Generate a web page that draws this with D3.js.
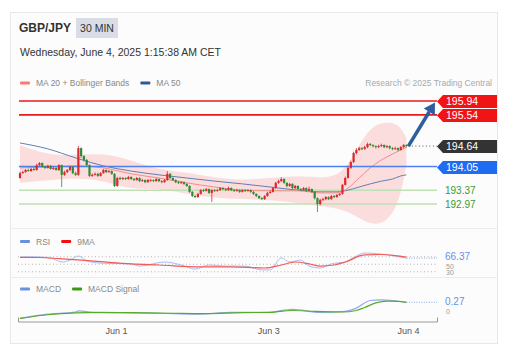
<!DOCTYPE html>
<html>
<head>
<meta charset="utf-8">
<script src="https://cdn.jsdelivr.net/npm/d3@7"></script>
<style>
  body { margin: 0; background: #fff; }
  svg { font-family: Arial, "Liberation Sans", sans-serif; display: block; }
</style>
</head>
<body>
<svg id="chart" width="516" height="354"></svg>
<script>

// ---- data (GBP/JPY, 30 min candles) ----
var opens = [193.72,193.86,193.89,193.95,193.92,193.98,193.95,194.09,194.15,194.04,
  194.01,194.07,193.98,194.01,193.95,194.09,193.81,193.89,193.95,194.04,
  193.86,193.81,194.58,194.35,194.24,194.09,193.78,193.81,193.84,193.78,
  193.86,193.95,193.89,193.92,193.84,193.49,193.72,193.69,193.72,193.69,
  193.75,193.69,193.66,193.72,193.63,193.66,193.60,193.66,193.66,193.63,
  193.69,193.63,193.60,193.66,193.84,193.72,193.66,193.60,193.58,193.60,
  193.55,193.49,193.32,193.20,193.17,193.26,193.37,193.35,193.40,193.29,
  193.37,193.35,193.37,193.43,193.40,193.37,193.43,193.37,193.35,193.37,
  193.32,193.37,193.35,193.37,193.32,193.26,193.20,193.14,193.11,193.20,
  193.29,193.32,193.43,193.58,193.63,193.69,193.58,193.49,193.55,193.43,
  193.49,193.40,193.37,193.43,193.35,193.40,193.32,193.14,192.97,193.09,
  193.11,193.17,193.11,193.20,193.17,193.23,193.26,193.52,193.72,194.01,
  194.18,194.44,194.53,194.58,194.56,194.61,194.70,194.67,194.64,194.61,
  194.64,194.67,194.61,194.64,194.58,194.56,194.58,194.53,194.61,194.67];

var closes = [193.86,193.89,193.95,193.92,193.98,193.95,194.09,194.15,194.04,194.01,
  194.07,193.98,194.01,193.95,194.09,193.81,193.89,193.95,194.04,193.86,
  193.81,194.58,194.35,194.24,194.09,193.78,193.81,193.84,193.78,193.86,
  193.95,193.89,193.92,193.84,193.49,193.72,193.69,193.72,193.69,193.75,
  193.69,193.66,193.72,193.63,193.66,193.60,193.66,193.66,193.63,193.69,
  193.63,193.60,193.66,193.84,193.72,193.66,193.60,193.58,193.60,193.55,
  193.49,193.32,193.20,193.17,193.26,193.37,193.35,193.40,193.29,193.37,
  193.35,193.37,193.43,193.40,193.37,193.43,193.37,193.35,193.37,193.32,
  193.37,193.35,193.37,193.32,193.26,193.20,193.14,193.11,193.20,193.29,
  193.32,193.43,193.58,193.63,193.69,193.58,193.49,193.55,193.43,193.49,
  193.40,193.37,193.43,193.35,193.40,193.32,193.14,192.97,193.09,193.11,
  193.17,193.11,193.20,193.17,193.23,193.26,193.52,193.72,194.01,194.18,
  194.44,194.53,194.58,194.56,194.61,194.70,194.67,194.64,194.61,194.64,
  194.67,194.61,194.64,194.58,194.56,194.58,194.53,194.61,194.67,194.64];

var highs = [193.90,193.93,193.98,193.99,194.01,194.02,194.13,194.18,194.17,194.07,
  194.10,194.09,194.05,194.03,194.12,194.11,193.93,193.98,194.07,194.06,
  193.90,194.64,194.60,194.38,194.27,194.11,193.85,193.88,193.87,193.89,
  193.98,193.97,193.95,193.94,193.86,193.75,193.76,193.75,193.74,193.78,
  193.77,193.72,193.75,193.74,193.70,193.68,193.69,193.70,193.68,193.72,
  193.71,193.66,193.69,193.92,193.86,193.74,193.68,193.64,193.63,193.62,
  193.57,193.51,193.34,193.23,193.29,193.40,193.41,193.43,193.42,193.40,
  193.40,193.41,193.46,193.45,193.42,193.47,193.45,193.40,193.41,193.39,
  193.40,193.40,193.40,193.39,193.34,193.28,193.22,193.17,193.23,193.32,
  193.36,193.46,193.61,193.67,193.74,193.71,193.60,193.58,193.57,193.52,
  193.51,193.43,193.46,193.45,193.47,193.42,193.34,193.16,193.12,193.15,
  193.20,193.19,193.23,193.23,193.26,193.29,193.55,193.76,194.05,194.22,
  194.48,194.58,194.62,194.61,194.65,194.74,194.73,194.69,194.66,194.68,
  194.71,194.69,194.67,194.66,194.61,194.62,194.60,194.64,194.70,194.69];

var lows = [193.70,193.84,193.87,193.90,193.90,193.93,193.93,194.06,194.02,193.98,
  193.99,193.96,193.95,193.93,193.92,193.46,193.78,193.86,193.92,193.83,
  193.78,193.78,194.30,194.20,194.05,193.75,193.75,193.79,193.75,193.76,
  193.84,193.86,193.87,193.81,193.46,193.47,193.66,193.66,193.66,193.67,
  193.66,193.63,193.64,193.60,193.61,193.57,193.58,193.62,193.60,193.61,
  193.60,193.57,193.58,193.64,193.69,193.63,193.57,193.55,193.55,193.52,
  193.46,193.29,193.17,193.14,193.15,193.24,193.32,193.33,193.26,193.03,
  193.32,193.33,193.35,193.37,193.34,193.35,193.34,193.32,193.33,193.29,
  193.30,193.32,193.33,193.29,193.23,193.17,193.11,193.08,193.09,193.18,
  193.27,193.30,193.41,193.55,193.60,193.55,193.45,193.46,193.40,193.40,
  193.37,193.34,193.35,193.32,193.33,193.29,193.10,192.74,192.93,193.06,
  193.08,193.08,193.09,193.14,193.15,193.20,193.24,193.50,193.70,193.98,
  194.15,194.40,194.50,194.52,194.53,194.58,194.64,194.60,194.57,194.58,
  194.61,194.58,194.58,194.55,194.52,194.53,194.49,194.51,194.58,194.60];

// moving averages + bollinger bands, read at these candle indices
var bandIdx   = [0, 10, 20, 30, 40, 50, 60, 70, 80, 90, 100, 108, 114, 118, 122, 126, 130, 134, 137, 139];
var bandUpper = [194.67,194.38,194.38,194.44,194.24,193.95,193.89,193.72,193.66,193.72,
                 193.78,193.72,193.78,194.09,194.67,195.16,195.31,195.33,195.19,194.87];
var bandLower = [193.58,193.66,193.72,193.66,193.37,193.43,193.26,193.14,193.11,193.09,
                 193.00,192.91,192.85,192.74,192.57,192.39,192.39,192.65,193.23,194.09];
var ma20      = [194.01,194.04,194.07,194.01,193.84,193.72,193.58,193.46,193.37,193.35,
                 193.35,193.29,193.29,193.43,193.72,194.01,194.24,194.41,194.53,194.61];
var ma50      = [194.73,194.56,194.30,194.07,193.92,193.81,193.72,193.63,193.55,193.46,
                 193.37,193.32,193.32,193.37,193.46,193.55,193.63,193.69,193.78,193.81];

var resistances = [195.94, 195.54];
var pivot = 194.05;
var supports = [193.37, 192.97];
var lastPrice = 194.64;

// RSI panel
var rsiIdx  = [0,5,11,15,18,21,24,29,40,43,52,58,63,68,74,81,87,90,94,97,101,104,108,112,117,121,124,130,135,139];
var rsiVals = [69,70,67,56,61,72,59,53,51,45,56,48,37,48,45,45,35,35,67,56,61,45,40,51,56,72,80,77,72,66.37];
var rsiMaIdx  = [0,7,14,22,29,40,50,65,76,88,94,99,104,108,113,117,124,130,135,139];
var rsiMaVals = [68.5,68,65,61,57,51,48,43,43,40,48,56,51,45,48,56,75,76,73,69];
var rsiLevels = [70, 50, 30];

// MACD panel
var macdIdx  = [0,10,20,21,26,29,50,64,76,89,98,108,116,121,126,130,134,139];
var macdVals = [-0.26,-0.12,-0.05,-0.01,-0.06,-0.07,-0.09,-0.12,-0.06,-0.06,0.04,-0.06,-0.04,0.08,0.33,0.35,0.33,0.27];
var signalIdx  = [0,10,20,28,40,55,66,80,90,98,106,116,121,124,128,132,136,139];
var signalVals = [-0.26,-0.14,-0.08,-0.06,-0.07,-0.09,-0.10,-0.07,-0.06,0.0,-0.03,-0.05,0.0,0.10,0.25,0.31,0.30,0.27];

var dateTicks   = ['Jun 1', 'Jun 3', 'Jun 4'];
var dateTickIdx = [34.5, 89.3, 139.6];

// ---- layout ----
var svg = d3.select('#chart');

var x = d3.scaleLinear().domain([0, closes.length - 1]).range([20, 406.4]);
var xEnd = 437;
var xAxisScale = d3.scaleLinear().domain([x.invert(18), x.invert(xEnd)]).range([18, xEnd]);

var y = d3.scaleLinear().domain([192.97, 195.94]).range([204, 101]);
var yRsi = d3.scaleLinear().domain([0, 100]).range([283, 245.5]);
var yMacd = d3.scaleLinear().domain([0, 0.27]).range([310.5, 302.3]);

var upColor = '#d9292b',
    downColor = '#2f8a35';

// card
svg.append('rect')
    .attr('x', 10.5).attr('y', 12.5)
    .attr('width', 487).attr('height', 331)
    .attr('fill', '#fcfcfc')
    .attr('stroke', '#e8e8e8');

[228.5, 277.5].forEach(function ( yy ) {
    svg.append('line')
        .attr('x1', 11).attr('x2', 497)
        .attr('y1', yy).attr('y2', yy)
        .attr('stroke', '#ececec');
});

// header
svg.append('text')
    .attr('x', 19).attr('y', 32)
    .attr('font-size', 12).attr('font-weight', 'bold')
    .attr('fill', '#333')
    .text('GBP/JPY');

svg.append('rect')
    .attr('x', 76).attr('y', 18)
    .attr('width', 42).attr('height', 20)
    .attr('fill', '#d9dde6');

svg.append('text')
    .attr('x', 97).attr('y', 31.5)
    .attr('text-anchor', 'middle')
    .attr('font-size', 10.5)
    .attr('fill', '#333')
    .text('30 MIN');

svg.append('text')
    .attr('x', 20).attr('y', 56)
    .attr('font-size', 10.5)
    .attr('fill', '#333')
    .text('Wednesday, June 4, 2025 1:15:38 AM CET');

function legend ( items, yy ) {

    var xx = 20;

    items.forEach( function ( it ) {

        svg.append('rect')
            .attr('x', xx).attr('y', yy - 1.5)
            .attr('width', 10).attr('height', 3)
            .attr('rx', 1)
            .attr('fill', it.color);

        var t = svg.append('text')
            .attr('x', xx + 16).attr('y', yy + 3)
            .attr('font-size', 8.5)
            .attr('fill', '#888')
            .text( it.label );

        xx += 16 + t.node().getComputedTextLength() + 11;

    });

}

legend([ { color: '#f77', label: 'MA 20 + Bollinger Bands' }, { color: '#2f5a98', label: 'MA 50' } ], 83);
legend([ { color: '#6b8fe6', label: 'RSI' }, { color: '#f01010', label: '9MA' } ], 241.5);
legend([ { color: '#6b8fe6', label: 'MACD' }, { color: '#3a9a12', label: 'MACD Signal' } ], 289);

svg.append('text')
    .attr('x', 492).attr('y', 86)
    .attr('text-anchor', 'end')
    .attr('font-size', 8.5)
    .attr('fill', '#aaa')
    .text('Research \u00a9 2025 Trading Central');

// ---- price panel ----
var band = d3.area()
    .x( function ( d, i ) { return x( bandIdx[ i ] ); })
    .y0( function ( d, i ) { return y( bandLower[ i ] ); })
    .y1( function ( d, i ) { return y( bandUpper[ i ] ); })
    .curve( d3.curveBasis );

svg.append('path')
    .datum( bandIdx )
    .attr('d', band)
    .attr('fill', '#fbd3d3')
    .attr('opacity', 0.75);

// support lines
supports.forEach( function ( p ) {

    svg.append('line')
        .attr('x1', 19).attr('x2', xEnd)
        .attr('y1', y( p )).attr('y2', y( p ))
        .attr('stroke', '#bfdfb4')
        .attr('stroke-width', 1.5);

    svg.append('text')
        .attr('x', 445).attr('y', y( p ) + 3.5)
        .attr('font-size', 10)
        .attr('fill', '#3a9a35')
        .text( p.toFixed(2) );

});

function line ( idx, vals, scale ) {

    return d3.line()
        .x( function ( d, i ) { return x( idx[ i ] ); })
        .y( function ( d, i ) { return scale( vals[ i ] ); })
        .curve( d3.curveMonotoneX )( idx );

}

svg.append('path')
    .attr('d', line( bandIdx, ma50, y ))
    .attr('fill', 'none')
    .attr('stroke', '#5f7fb8')
    .attr('stroke-width', 1);

svg.append('path')
    .attr('d', line( bandIdx, ma20, y ))
    .attr('fill', 'none')
    .attr('stroke', '#f58b8b')
    .attr('stroke-width', 1);

// pivot + resistance lines
svg.append('line')
    .attr('x1', 19).attr('x2', xEnd)
    .attr('y1', y( pivot )).attr('y2', y( pivot ))
    .attr('stroke', '#4f80ef')
    .attr('stroke-width', 1.5);

resistances.forEach( function ( p ) {

    svg.append('line')
        .attr('x1', 19).attr('x2', xEnd)
        .attr('y1', y( p )).attr('y2', y( p ))
        .attr('stroke', '#e51c1c')
        .attr('stroke-width', 1.6);

});

// candles
var candles = svg.append('g').selectAll('g')
    .data( closes )
    .enter().append('g');

candles.append('line')
    .attr('x1', function ( d, i ) { return x( i ); })
    .attr('x2', function ( d, i ) { return x( i ); })
    .attr('y1', function ( d, i ) { return y( highs[ i ] ); })
    .attr('y2', function ( d, i ) { return y( lows[ i ] ); })
    .attr('stroke', function ( d, i ) { return d >= opens[ i ] ? upColor : downColor; })
    .attr('stroke-width', 0.8);

candles.append('rect')
    .attr('x', function ( d, i ) { return x( i ) - 1.1; })
    .attr('width', 2.2)
    .attr('y', function ( d, i ) { return y( Math.max( d, opens[ i ] ) ); })
    .attr('height', function ( d, i ) { return Math.max( 1, Math.abs( y( d ) - y( opens[ i ] ) ) ); })
    .attr('fill', function ( d, i ) { return d >= opens[ i ] ? upColor : downColor; });

// last price dotted extension
var lastX = x( closes.length - 1 );

svg.append('line')
    .attr('x1', lastX + 2).attr('x2', xEnd)
    .attr('y1', y( lastPrice )).attr('y2', y( lastPrice ))
    .attr('stroke', '#555')
    .attr('stroke-dasharray', '1,2.5');

// forecast arrow
var ax0 = lastX + 2, ay0 = y( lastPrice ),
    ax1 = xAxisScale( x.invert( 435 ) ), ay1 = y( 195.90 );
var ang = Math.atan2( ay1 - ay0, ax1 - ax0 );
var headLen = 11, headW = 6.5;
var bx = ax1 - headLen * Math.cos( ang ), by = ay1 - headLen * Math.sin( ang );

svg.append('line')
    .attr('x1', ax0).attr('y1', ay0)
    .attr('x2', bx).attr('y2', by)
    .attr('stroke', '#2d5f9f')
    .attr('stroke-width', 3.5);

svg.append('path')
    .attr('d', 'M' + ax1 + ',' + ay1 +
        'L' + ( bx + headW * Math.sin( ang ) ) + ',' + ( by - headW * Math.cos( ang ) ) +
        'L' + ( bx - headW * Math.sin( ang ) ) + ',' + ( by + headW * Math.cos( ang ) ) + 'Z')
    .attr('fill', '#2d5f9f');

// price tags
function tag ( price, fill ) {

    var yy = Math.round( y( price ) ) + 0.5, x0 = 437, x1 = 497, h = 6.5;

    svg.append('path')
        .attr('d', 'M' + x0 + ',' + yy + 'L' + ( x0 + 6 ) + ',' + ( yy - h ) + 'H' + x1 + 'V' + ( yy + h ) + 'H' + ( x0 + 6 ) + 'Z')
        .attr('fill', fill);

    svg.append('text')
        .attr('x', x0 + 9).attr('y', yy + 3.8)
        .attr('font-size', 10.5)
        .attr('fill', '#fff')
        .text( price.toFixed(2) );

}

resistances.forEach( function ( p ) { tag( p, '#f01414' ); });
tag( lastPrice, '#333' );
tag( pivot, '#1f6bf2' );

// ---- RSI panel ----
rsiLevels.forEach( function ( v ) {

    svg.append('line')
        .attr('x1', 18).attr('x2', xEnd)
        .attr('y1', yRsi( v )).attr('y2', yRsi( v ))
        .attr('stroke', '#b5b5b5')
        .attr('stroke-dasharray', '1,2.5');

});

svg.append('path')
    .attr('d', line( rsiIdx, rsiVals, yRsi ))
    .attr('fill', 'none')
    .attr('stroke', '#a9bdf3')
    .attr('stroke-width', 1);

svg.append('path')
    .attr('d', line( rsiMaIdx, rsiMaVals, yRsi ))
    .attr('fill', 'none')
    .attr('stroke', '#f25a5a')
    .attr('stroke-width', 1.2);

svg.append('line')
    .attr('x1', x( rsiIdx[ rsiIdx.length - 1 ] )).attr('x2', xEnd)
    .attr('y1', yRsi( rsiVals[ rsiVals.length - 1 ] )).attr('y2', yRsi( rsiVals[ rsiVals.length - 1 ] ))
    .attr('stroke', '#8fa8ee')
    .attr('stroke-dasharray', '1,1.5');

// level labels (50 sits just under the current value label)
[ { v: 50, dy: 4.5 }, { v: 30, dy: 3 } ].forEach( function ( l ) {

    svg.append('text')
        .attr('x', 446).attr('y', yRsi( l.v ) + l.dy)
        .attr('font-size', 7)
        .attr('fill', '#999')
        .text( l.v );

});

svg.append('text')
    .attr('x', 445).attr('y', yRsi( rsiVals[ rsiVals.length - 1 ] ) + 2)
    .attr('font-size', 10)
    .attr('fill', '#6b8fe6')
    .text( rsiVals[ rsiVals.length - 1 ].toFixed(2) );

// ---- MACD panel ----
svg.append('path')
    .attr('d', line( macdIdx, macdVals, yMacd ))
    .attr('fill', 'none')
    .attr('stroke', '#8fa8ee')
    .attr('stroke-width', 1.2);

svg.append('path')
    .attr('d', line( signalIdx, signalVals, yMacd ))
    .attr('fill', 'none')
    .attr('stroke', '#5aaa2a')
    .attr('stroke-width', 1.2);

svg.append('line')
    .attr('x1', x( macdIdx[ macdIdx.length - 1 ] )).attr('x2', xEnd)
    .attr('y1', yMacd( macdVals[ macdVals.length - 1 ] )).attr('y2', yMacd( macdVals[ macdVals.length - 1 ] ))
    .attr('stroke', '#8fa8ee')
    .attr('stroke-dasharray', '1,1.5');

svg.append('text')
    .attr('x', 446).attr('y', yMacd( 0 ) + 3.5)
    .attr('font-size', 7)
    .attr('fill', '#999')
    .text('0');

svg.append('text')
    .attr('x', 445).attr('y', yMacd( macdVals[ macdVals.length - 1 ] ) + 2.5)
    .attr('font-size', 10)
    .attr('fill', '#6b8fe6')
    .text( macdVals[ macdVals.length - 1 ].toFixed(2) );

// ---- x axis ----
var axis = svg.append('g')
    .attr('transform', 'translate(0,321.5)')
    .call( d3.axisBottom( xAxisScale )
        .tickValues( dateTickIdx )
        .tickFormat( function ( d, i ) { return dateTicks[ i ]; })
        .tickSizeInner( 0 )
        .tickSizeOuter( -4 )
        .tickPadding( 6 ) );

axis.select('.domain').attr('stroke', '#999');
axis.selectAll('text')
    .attr('font-size', 9)
    .attr('fill', '#555')
    .attr('font-family', 'Arial, "Liberation Sans", sans-serif');

</script>
</body>
</html>
